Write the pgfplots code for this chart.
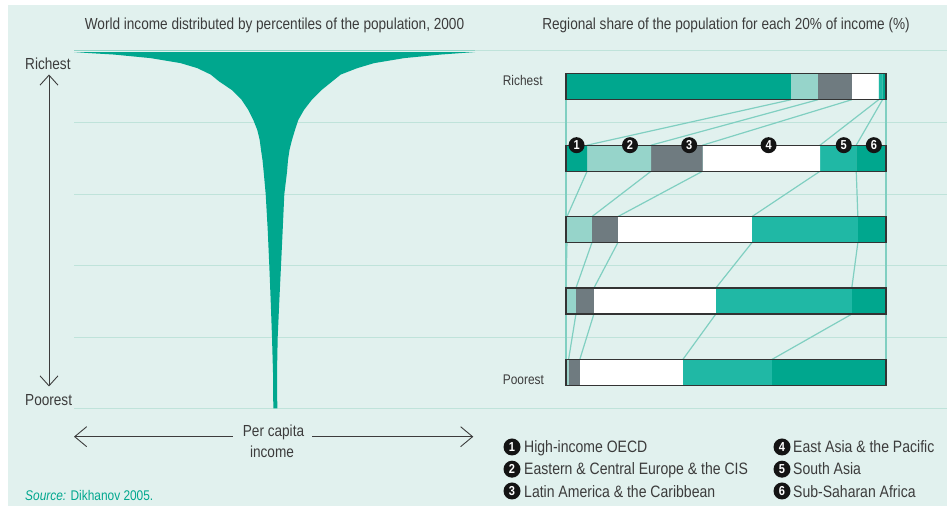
\documentclass[border=0pt]{standalone}
\usepackage{pgfplots}
\pgfplotsset{compat=1.18}
\usepackage{fontspec}
\setmainfont{Liberation Sans}[FakeStretch=0.85]
\usetikzlibrary{arrows.meta}
\definecolor{bg}{HTML}{E1F1EE}
\definecolor{gridc}{HTML}{BFE3DA}
\definecolor{topc}{HTML}{8FD3C5}
\definecolor{connc}{HTML}{80CFC1}
\definecolor{oecd}{HTML}{00A78E}
\definecolor{eeur}{HTML}{96D4CA}
\definecolor{latam}{HTML}{6F7B80}
\definecolor{sasia}{HTML}{20B8A5}
\definecolor{ssa}{HTML}{00A78E}
\definecolor{outl}{HTML}{333333}
\definecolor{txt}{HTML}{3C3C3C}
\newcommand\fs[1]{\fontsize{#1bp}{#1bp}\selectfont}
\tikzset{numc/.style={circle, fill=black!92, text=white, inner sep=0pt, minimum size=16bp, font=\fs{13}\bfseries},
  lab/.style={inner sep=0pt, text=txt},
  conn/.style={connc, line width=1.2bp, mark=none}}
\begin{document}
\begin{tikzpicture}
\begin{scope}[x=1bp,y=1bp]
\useasboundingbox (0,0) rectangle (947,506);
\fill[white] (0,0) rectangle (947,506);
\fill[bg] (8,0) rectangle (947,501);
\foreach \yy in {122.7,194.3,265.7,337.3,408.3}{
  \draw[gridc, line width=1.5bp] (74,{506-\yy}) -- (947,{506-\yy});
}
\draw[gridc, line width=1.5bp] (475,455.5) -- (947,455.5);
\end{scope}

% funnel
\begin{axis}[at={(74bp,97.7bp)}, anchor=south west, width=401bp, height=357.3bp,
  scale only axis, xmin=-201, xmax=200, ymin=0, ymax=100, hide axis, clip=false]
\addplot[fill=oecd, draw=none] coordinates {
(-1.7,0) (-2,10) (-3,19.9) (-4.3,30) (-5.7,39.9) (-7.3,50) (-9.3,59.9) (-11.3,66.1)
(-12.5,69.5) (-14,72.3) (-15.3,75.1) (-17.7,77.9) (-21.7,80.7) (-26.7,83.5)
(-33.3,86.3) (-43.3,89.1) (-56,91.5) (-64.3,93.4) (-77.7,95.2) (-94.3,96.6)
(-124.3,98.0) (-161,99.0) (-185,99.4) (-201,99.7)
(200,99.7) (185,99.4) (165.7,99.0) (129,98.0) (99,96.6) (82.3,95.2) (65.7,93.4)
(57.3,91.5) (46.7,89.1) (36.7,86.3) (29,83.5) (23.3,80.7) (20,77.9) (17,75.1)
(14.5,72.3) (13,69.5) (12,66.1) (9.3,59.9) (7.7,50) (6,39.9) (4.3,30) (2.7,19.9)
(2,10) (2.3,0)
} -- cycle;
\end{axis}
\begin{scope}[x=1bp,y=1bp]
\draw[topc, line width=1.3bp] (74,455.6) -- (475,455.6);
\end{scope}

% connecting lines
\begin{axis}[at={(566bp,97.7bp)}, anchor=south west, width=320bp, height=357.3bp,
  scale only axis, xmin=0, xmax=100, ymin=0.5, ymax=5.5, hide axis, clip=false]
\addplot[conn] coordinates {(0,4.818) (0,1.182)};
\addplot[conn] coordinates {(70.3,4.818) (6.6,4.182) (6.6,3.818) (0.3,3.182) (0.3,2.818) (0,2.182) (0,1.818) (0,1.182)};
\addplot[conn] coordinates {(78.7,4.818) (26.6,4.182) (26.6,3.818) (8.1,3.182) (8.1,2.818) (3.1,2.182) (3.1,1.818) (0.8,1.182)};
\addplot[conn] coordinates {(89.3,4.818) (42.7,4.182) (42.7,3.818) (16.2,3.182) (16.2,2.818) (8.7,2.182) (8.7,1.818) (4.3,1.182)};
\addplot[conn] coordinates {(97.7,4.818) (79.4,4.182) (79.4,3.818) (58.1,3.182) (58.1,2.818) (46.8,2.182) (46.8,1.818) (36.5,1.182)};
\addplot[conn] coordinates {(98.9,4.818) (90.7,4.182) (90.7,3.818) (91.2,3.182) (91.2,2.818) (89.3,2.182) (89.3,1.818) (64.3,1.182)};
\addplot[conn] coordinates {(100,4.818) (100,1.182)};
\end{axis}

% stacked bars
\begin{axis}[at={(566bp,97.7bp)}, anchor=south west, width=320bp, height=357.3bp,
  scale only axis, xmin=0, xmax=100, ymin=0.5, ymax=5.5, hide axis, clip=false,
  xbar stacked, bar width=26bp]
\addplot[fill=oecd, draw=none] coordinates {(70.3,5) (6.6,4) (0.3,3) (0,2) (0,1)};
\addplot[fill=eeur, draw=none] coordinates {(8.4,5) (20,4) (7.8,3) (3.1,2) (0.8,1)};
\addplot[fill=latam, draw=none] coordinates {(10.6,5) (16.1,4) (8.1,3) (5.6,2) (3.5,1)};
\addplot[fill=white, draw=none] coordinates {(8.4,5) (36.7,4) (41.9,3) (38.1,2) (32.2,1)};
\addplot[fill=sasia, draw=none] coordinates {(1.2,5) (11.3,4) (33.1,3) (42.5,2) (27.8,1)};
\addplot[fill=ssa, draw=none] coordinates {(1.1,5) (9.3,4) (8.8,3) (10.7,2) (35.7,1)};
\end{axis}

% outlines and numbers
\begin{axis}[at={(566bp,97.7bp)}, anchor=south west, width=320bp, height=357.3bp,
  scale only axis, xmin=0, xmax=100, ymin=0.5, ymax=5.5, hide axis, clip=false,
  xbar, bar width=26bp]
\addplot[draw=outl, fill=none, line width=1.3bp] coordinates {(100,1) (100,2) (100,3) (100,4) (100,5)};
\node[numc] at (axis cs:3.3,4.182) {1};
\node[numc] at (axis cs:20,4.182) {2};
\node[numc] at (axis cs:38.5,4.182) {3};
\node[numc] at (axis cs:63.3,4.182) {4};
\node[numc] at (axis cs:86.8,4.182) {5};
\node[numc] at (axis cs:96.2,4.182) {6};
\end{axis}

\begin{scope}[x=1bp,y=1bp]
\node[lab, anchor=base, font=\fs{16}] at (274.5,476) {World income distributed by percentiles of the population, 2000};
\node[lab, anchor=base, font=\fs{16}] at (726,476) {Regional share of the population for each 20\% of income (\%)};
\node[lab, anchor=base west, font=\fs{16}] at (25,436) {Richest};
\node[lab, anchor=base west, font=\fs{16}] at (25,100) {Poorest};
\node[lab, anchor=base west, font=\fs{14}] at (502.7,420) {Richest};
\node[lab, anchor=base west, font=\fs{14}] at (502.7,121) {Poorest};
\node[lab, anchor=base, font=\fs{16}] at (273.5,69) {Per capita};
\node[lab, anchor=base, font=\fs{16}] at (272,48.7) {income};
\node[inner sep=0pt, anchor=base west, font=\fs{14}, text=oecd] at (25,5.5) {\textit{Source:} Dikhanov 2005.};
\draw[txt, line width=0.9bp, {Straight Barb[length=10bp,width=18bp]}-{Straight Barb[length=10bp,width=18bp]}] (49,431.5) -- (49,119.5);
\draw[txt, line width=0.9bp, {Straight Barb[length=12bp,width=20bp]}-] (74,69.3) -- (232.7,69.3);
\draw[txt, line width=0.9bp, -{Straight Barb[length=12bp,width=20bp]}] (312.3,69.3) -- (473.3,69.3);
% legend
\node[numc, minimum size=17bp] at (512,59) {1};
\node[numc, minimum size=17bp] at (512,36.8) {2};
\node[numc, minimum size=17bp] at (512,15) {3};
\node[numc, minimum size=17bp] at (782,59) {4};
\node[numc, minimum size=17bp] at (782,36.8) {5};
\node[numc, minimum size=17bp] at (782,15) {6};
\node[lab, anchor=base west, font=\fs{16.5}] at (524,53.3) {High-income OECD};
\node[lab, anchor=base west, font=\fs{16.5}] at (524,31) {Eastern \& Central Europe \& the CIS};
\node[lab, anchor=base west, font=\fs{16.5}] at (524,8.7) {Latin America \& the Caribbean};
\node[lab, anchor=base west, font=\fs{16.5}] at (793,53.3) {East Asia \& the Pacific};
\node[lab, anchor=base west, font=\fs{16.5}] at (793,31) {South Asia};
\node[lab, anchor=base west, font=\fs{16.5}] at (793,8.7) {Sub-Saharan Africa};
\end{scope}
\end{tikzpicture}
\end{document}
